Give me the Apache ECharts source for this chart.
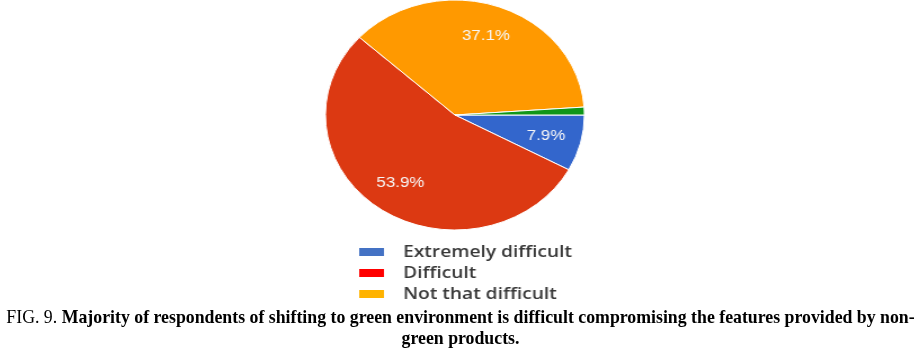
<!DOCTYPE html>
<html>
<head>
<meta charset="utf-8">
<script src="https://cdn.jsdelivr.net/npm/echarts@6/dist/echarts.min.js"></script>
<style>
html,body{margin:0;padding:0;background:#fff;width:921px;height:353px;overflow:hidden;}
#chart{position:absolute;left:0;top:0;width:818px;height:353px;transform:scaleX(1.126);transform-origin:0 0;}
#cap{position:absolute;left:0;top:307px;width:921px;text-align:center;font-family:"Liberation Serif","Times New Roman",serif;font-size:17.8px;line-height:21px;color:#000;font-weight:bold;}
#cap .n{font-weight:normal;}
</style>
</head>
<body>
<div id="chart"></div>
<div id="cap"><span class="n">FIG. 9.</span> Majority of respondents of shifting to green environment is difficult compromising the features provided by non-green products.</div>
<script>
const categories = ["Extremely difficult", "Difficult", "Not that difficult", "Other"];
const values = [7.9, 53.9, 37.1, 1.1];
const sliceColors = ["#3366cc", "#dc3912", "#ff9900", "#109618"];
const legendNames = ["Extremely difficult", "Difficult", "Not that difficult"];
const legendColors = ["#4472c4", "#ff0000", "#ffb300"];

const chart = echarts.init(document.getElementById('chart'));
const pieData = categories.map((c, i) => ({name: c, value: values[i], itemStyle: {color: sliceColors[i]}}));
const labelData = categories.map((c, i) => ({name: c, value: values[i], label: {show: i < 3}}));
chart.setOption({
  animation: false,
  legend: {
    orient: 'vertical',
    left: 312,
    top: 238,
    height: 80,
    itemWidth: 24,
    itemHeight: 10,
    itemGap: 3,
    textStyle: {fontFamily: 'Open Sans', fontSize: 17, fontWeight: 600, color: '#383838', lineHeight: 18, padding: [0, 0, 0, 11]},
    data: legendNames.map((n, i) => ({name: n, icon: 'rect', itemStyle: {color: legendColors[i]}}))
  },
  series: [{
    type: 'pie',
    center: [404, 115],
    radius: [0, 115],
    startAngle: 0,
    clockwise: true,
    label: {show: false},
    labelLine: {show: false},
    itemStyle: {borderColor: '#fff', borderWidth: 1},
    data: pieData
  }, {
    type: 'pie',
    center: [404, 115],
    radius: [46, 115],
    startAngle: 0,
    clockwise: true,
    silent: true,
    legendHoverLink: false,
    itemStyle: {color: 'rgba(0,0,0,0)'},
    label: {show: true, position: 'inside', formatter: p => p.value + '%', color: '#f7f7f7', fontFamily: 'Liberation Sans', fontSize: 15},
    labelLine: {show: false},
    data: labelData
  }]
});
</script>
</body>
</html>
